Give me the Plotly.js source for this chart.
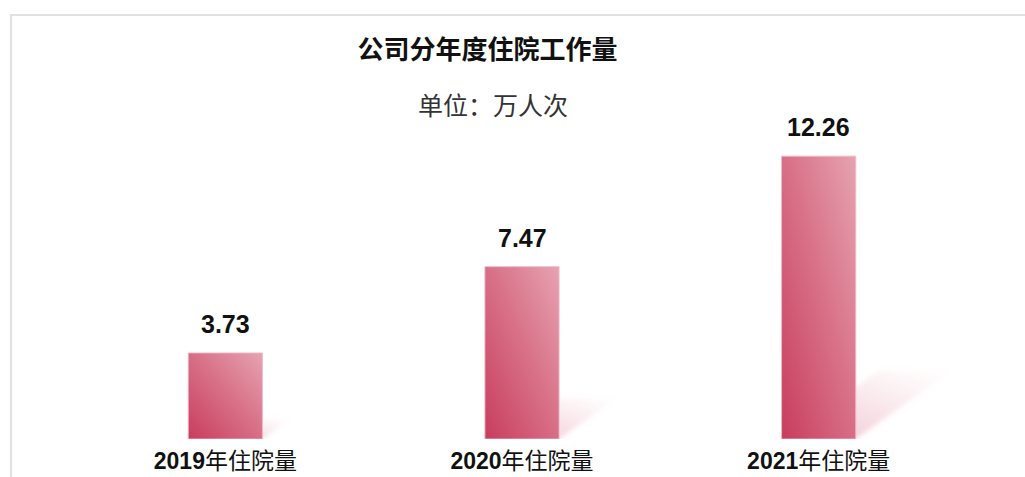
<!DOCTYPE html>
<html><head><meta charset="utf-8">
<script src="https://cdn.plot.ly/plotly-3.0.1.min.js"></script>
<style>
html,body{margin:0;padding:0;background:#fff;}
#wrap{position:relative;width:1025px;height:477px;overflow:hidden;}
#frame{position:absolute;left:10px;top:14px;right:-5px;bottom:-5px;border-top:2px solid #e1e1e1;border-left:2px solid #e1e1e1;}
#chart{position:absolute;left:0;top:0;width:1025px;height:477px;}
</style>
</head><body>
<div id="wrap"><div id="frame"></div><div id="chart"></div></div>
<script>
// ---- data ----
const categories = ['2019年住院量', '2020年住院量', '2021年住院量'];
const values = [3.73, 7.47, 12.26];
const valueLabels = ['3.73', '7.47', '12.26'];
const chartTitle = '公司分年度住院工作量';
const unitText = '单位：万人次';

const FONT = '"Liberation Sans", Arial, "Noto Sans CJK SC", sans-serif';
const tickText = categories.map(c => c.replace(/^(\d+)/, '<b>$1</b>'));

const data = [{
  type: 'bar',
  x: categories,
  y: values,
  marker: { color: '#d76a80', line: { color: 'rgba(240,185,198,0.9)', width: 1 } },
  hoverinfo: 'skip'
}];

const annotations = categories.map((c, i) => ({
  x: c, y: values[i], xref: 'x', yref: 'y',
  text: valueLabels[i], showarrow: false,
  yanchor: 'middle', yshift: 29,
  font: { family: FONT, size: 25, color: '#111', weight: 700 }
}));
annotations.push({
  xref: 'paper', yref: 'paper', x: 0.467, y: 1.031,
  xanchor: 'center', yanchor: 'middle', showarrow: false,
  text: unitText,
  font: { family: FONT, size: 25, color: '#333' }
});

const layout = {
  width: 1025, height: 477,
  margin: { l: 77, r: 58, t: 116, b: 38 },
  paper_bgcolor: 'rgba(0,0,0,0)',
  plot_bgcolor: 'rgba(0,0,0,0)',
  showlegend: false,
  bargap: 0.75,
  title: {
    text: chartTitle,
    xref: 'container', yref: 'container',
    x: 0.4755, y: 1 - 50 / 477, xanchor: 'center', yanchor: 'middle',
    font: { family: FONT, size: 26, color: '#111', weight: 700 }
  },
  xaxis: {
    type: 'category',
    tickvals: categories, ticktext: tickText,
    showline: false, showgrid: false, zeroline: false,
    ticks: '', ticklabelstandoff: 6,
    tickfont: { family: FONT, size: 23, color: '#111' },
    fixedrange: true
  },
  yaxis: { range: [0, 14], visible: false, fixedrange: true },
  annotations: annotations
};

Plotly.newPlot('chart', data, layout, { staticPlot: true, displayModeBar: false }).then(gd => {
  const NS = 'http://www.w3.org/2000/svg';
  const svg = gd.querySelector('svg.main-svg');
  let defs = svg.querySelector('defs');
  if (!defs) { defs = document.createElementNS(NS, 'defs'); svg.insertBefore(defs, svg.firstChild); }
  defs.insertAdjacentHTML('beforeend',
    '<linearGradient id="barGrad" x1="0" y1="1" x2="1" y2="0">' +
      '<stop offset="0" stop-color="#c83d5d"/>' +
      '<stop offset="0.55" stop-color="#d9738a"/>' +
      '<stop offset="1" stop-color="#e6a3b1"/>' +
    '</linearGradient>' +
    '<linearGradient id="shGrad" x1="0" y1="1" x2="1" y2="0">' +
      '<stop offset="0" stop-color="rgb(222,130,152)" stop-opacity="0.5"/>' +
      '<stop offset="0.5" stop-color="rgb(232,160,178)" stop-opacity="0.28"/>' +
      '<stop offset="1" stop-color="rgb(240,190,200)" stop-opacity="0"/>' +
    '</linearGradient>' +
    '<filter id="shBlur" x="-20%" y="-20%" width="140%" height="140%"><feGaussianBlur stdDeviation="2.5"/></filter>');

  const paths = gd.querySelectorAll('.barlayer .point path');
  paths.forEach(p => {
    const b = p.getBBox();
    const L = b.x, R = b.x + b.width, T = b.y, B = b.y + b.height;
    const h = B - T;
    const dx = 0.34 * h, dy = 0.24 * h;
    const poly = document.createElementNS(NS, 'polygon');
    poly.setAttribute('points',
      `${L},${B} ${R},${B} ${R + dx},${B - dy} ${L + dx},${B - dy}`);
    poly.setAttribute('fill', 'url(#shGrad)');
    poly.setAttribute('filter', 'url(#shBlur)');
    const pointsG = p.parentNode.parentNode;
    pointsG.insertBefore(poly, pointsG.firstChild);
    p.style.fill = 'url(#barGrad)';
  });
});
</script>
</body></html>
